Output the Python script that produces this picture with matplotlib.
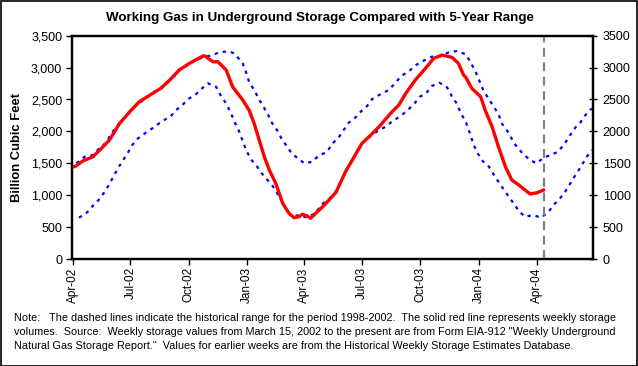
import matplotlib
matplotlib.use("Agg")
import matplotlib.pyplot as plt
import matplotlib.dates as mdates
import matplotlib.ticker as mticker
import numpy as np
import pandas as pd

plt.rcParams['font.family'] = ['Liberation Sans', 'DejaVu Sans']

# ---- data (Bcf) ----
storage_dates = ["2002-03-29", "2002-04-05", "2002-04-17", "2002-05-03", "2002-05-19", "2002-05-29",
                 "2002-06-14", "2002-06-30", "2002-07-15", "2002-08-05", "2002-08-18", "2002-09-01",
                 "2002-09-16", "2002-10-02", "2002-10-23", "2002-10-26", "2002-11-08", "2002-11-16",
                 "2002-11-29", "2002-12-09", "2002-12-25", "2003-01-04", "2003-01-12", "2003-01-20",
                 "2003-01-28", "2003-02-05", "2003-02-15", "2003-02-26", "2003-03-08", "2003-03-16",
                 "2003-03-24", "2003-03-29", "2003-04-06", "2003-04-11", "2003-04-19", "2003-04-30",
                 "2003-05-10", "2003-05-21", "2003-06-05", "2003-07-01", "2003-07-12", "2003-07-28",
                 "2003-08-15", "2003-08-28", "2003-09-08", "2003-09-23", "2003-10-09", "2003-10-22",
                 "2003-11-04", "2003-11-20", "2003-11-30", "2003-12-08", "2003-12-11", "2003-12-21",
                 "2004-01-04", "2004-01-11", "2004-01-22", "2004-02-01", "2004-02-12", "2004-02-22",
                 "2004-03-04", "2004-03-14", "2004-03-22", "2004-04-02", "2004-04-12"]
storage_values = [1440, 1450, 1536, 1603, 1760, 1865,
                  2126, 2308, 2465, 2596, 2675, 2805,
                  2962, 3066, 3181, 3185, 3092, 3092,
                  2962, 2700, 2492, 2335, 2126, 1865,
                  1603, 1395, 1186, 873, 716, 647,
                  663, 700, 674, 638, 716, 820,
                  925, 1045, 1368, 1813, 1916, 2073,
                  2283, 2413, 2596, 2805, 2988, 3145,
                  3197, 3160, 3066, 2883, 2857, 2675,
                  2543, 2335, 2073, 1760, 1446, 1238,
                  1160, 1081, 1019, 1039, 1081]

max_dates = ["2002-04-07", "2002-04-20", "2002-05-03", "2002-05-13", "2002-05-24", "2002-06-01",
             "2002-06-08", "2002-06-18", "2002-06-27", "2002-07-05", "2002-07-15", "2002-07-26",
             "2002-08-08", "2002-08-18", "2002-09-01", "2002-09-10", "2002-09-19", "2002-10-02",
             "2002-10-13", "2002-11-07", "2002-11-21", "2002-12-04", "2002-12-12", "2002-12-25",
             "2002-12-30", "2003-01-04", "2003-01-12", "2003-01-19", "2003-01-25", "2003-02-02",
             "2003-02-09", "2003-02-17", "2003-02-24", "2003-03-05", "2003-03-13", "2003-03-22",
             "2003-04-01", "2003-04-14", "2003-04-23", "2003-05-07", "2003-05-15", "2003-05-25",
             "2003-06-02", "2003-06-10", "2003-06-21", "2003-06-29", "2003-07-09", "2003-07-17",
             "2003-07-30", "2003-08-12", "2003-08-22", "2003-09-01", "2003-09-12", "2003-09-24",
             "2003-10-06", "2003-10-19", "2003-11-01", "2003-11-13", "2003-11-27", "2003-12-12",
             "2003-12-19", "2003-12-27", "2004-01-03", "2004-01-08", "2004-01-16", "2004-01-24",
             "2004-02-01", "2004-02-07", "2004-02-17", "2004-02-25", "2004-03-03", "2004-03-11",
             "2004-03-22", "2004-04-01", "2004-04-12", "2004-04-23", "2004-05-05", "2004-05-15",
             "2004-05-24", "2004-06-01", "2004-06-10", "2004-06-17", "2004-06-27"]
max_values = [1500, 1603, 1630, 1735, 1823, 1970,
              2058, 2178, 2256, 2371, 2440, 2528,
              2622, 2684, 2794, 2883, 2988, 3051,
              3129, 3197, 3249, 3249, 3223, 3066,
              2935, 2778, 2648, 2518, 2413, 2283,
              2136, 2021, 1891, 1760, 1645, 1578,
              1500, 1525, 1614, 1681, 1805, 1901,
              2021, 2136, 2220, 2308, 2397, 2507,
              2581, 2648, 2753, 2872, 2935, 3040,
              3108, 3170, 3181, 3233, 3259, 3207,
              3082, 2935, 2769, 2648, 2518, 2397,
              2272, 2116, 1979, 1828, 1735, 1645,
              1551, 1500, 1587, 1630, 1681, 1802,
              1943, 2058, 2152, 2256, 2361]

min_dates = ["2002-04-11", "2002-04-24", "2002-05-04", "2002-05-12", "2002-05-21", "2002-05-29",
             "2002-06-05", "2002-06-12", "2002-06-19", "2002-06-27", "2002-07-04", "2002-07-13",
             "2002-07-26", "2002-08-07", "2002-08-20", "2002-09-02", "2002-09-11", "2002-09-21",
             "2002-09-30", "2002-10-11", "2002-10-22", "2002-10-31", "2002-11-13", "2002-11-20",
             "2002-11-28", "2002-12-06", "2002-12-12", "2002-12-19", "2002-12-25", "2002-12-31",
             "2003-01-08", "2003-01-16", "2003-01-24", "2003-02-02", "2003-02-11", "2003-02-19",
             "2003-02-27", "2003-03-05", "2003-03-13", "2003-03-24", "2003-04-06", "2003-04-19",
             "2003-04-29", "2003-05-10", "2003-05-20", "2003-06-05", "2003-07-01", "2003-07-12",
             "2003-07-24", "2003-08-07", "2003-08-19", "2003-08-31", "2003-09-11", "2003-09-21",
             "2003-09-30", "2003-10-10", "2003-10-19", "2003-10-31", "2003-11-12", "2003-11-20",
             "2003-11-27", "2003-12-04", "2003-12-12", "2003-12-18", "2003-12-24", "2003-12-31",
             "2004-01-07", "2004-01-17", "2004-01-25", "2004-02-02", "2004-02-10", "2004-02-18",
             "2004-02-26", "2004-03-05", "2004-03-14", "2004-03-27", "2004-04-08", "2004-04-20",
             "2004-04-29", "2004-05-08", "2004-05-17", "2004-05-25", "2004-06-02", "2004-06-10",
             "2004-06-18", "2004-06-27"]
min_values = [647, 732, 846, 925, 1045, 1175,
              1305, 1431, 1540, 1666, 1786, 1891,
              1985, 2064, 2162, 2230, 2335, 2413,
              2507, 2570, 2675, 2753, 2700, 2570,
              2449, 2299, 2152, 2010, 1849, 1692,
              1551, 1457, 1343, 1238, 1133, 1003,
              873, 741, 663, 689, 647, 726,
              862, 936, 1045, 1368, 1813, 1907,
              1995, 2073, 2167, 2241, 2335, 2429,
              2543, 2596, 2711, 2763, 2690, 2543,
              2440, 2283, 2136, 1970, 1786, 1645,
              1536, 1446, 1316, 1196, 1081, 967,
              857, 741, 663, 689, 647, 741,
              857, 951, 1070, 1196, 1327, 1446,
              1587, 1708]

current_week = "2004-04-12"
title = "Working Gas in Underground Storage Compared with 5-Year Range"
ylabel = "Billion Cubic Feet"
note = ("Note:   The dashed lines indicate the historical range for the period 1998-2002.  The solid red line represents weekly storage\n"
        "volumes.  Source:  Weekly storage values from March 15, 2002 to the present are from Form EIA-912 \"Weekly Underground\n"
        "Natural Gas Storage Report.\"  Values for earlier weeks are from the Historical Weekly Storage Estimates Database.")

# ---- figure ----
fig = plt.figure(figsize=(6.38, 3.66), dpi=100)
ax = fig.add_axes([72/638, 1-259/366, (593-72)/638, (259-35.7)/366])

sd = pd.to_datetime(storage_dates)
mxd = pd.to_datetime(max_dates)
mnd = pd.to_datetime(min_dates)

blue = '#0000FF'
ax.plot(mxd, max_values, color=blue, lw=1.6, linestyle=(0, (1.5, 2.2)), zorder=2)
ax.plot(mnd, min_values, color=blue, lw=1.6, linestyle=(0, (1.5, 2.2)), zorder=2)
ax.plot(sd, storage_values, color='#FF0000', lw=2.4, zorder=3, solid_joinstyle='round')
ax.axvline(pd.Timestamp(current_week), color='#808080', lw=1.6, linestyle=(0, (4, 2.5)), zorder=4)

ax.set_xlim(pd.Timestamp("2002-03-31"), pd.Timestamp("2004-06-29"))
ax.set_ylim(0, 3500)
ax.yaxis.set_major_locator(mticker.MultipleLocator(500))
ax.yaxis.set_major_formatter(mticker.FuncFormatter(lambda v, p: f"{int(v):,}"))
ax.xaxis.set_major_locator(mdates.MonthLocator(bymonth=[1, 4, 7, 10], bymonthday=1))
ax.xaxis.set_major_formatter(mdates.DateFormatter("%b-%y"))

ax.tick_params(axis='x', labelsize=8.5, direction='out', length=4, width=1, pad=2, labelrotation=90)
ax.tick_params(axis='y', labelsize=9, direction='out', length=4, width=1, pad=3)
for s in ax.spines.values():
    s.set_linewidth(1.6)
    s.set_color('black')

ax2 = ax.twinx()
ax2.set_ylim(0, 3500)
ax2.yaxis.set_major_locator(mticker.MultipleLocator(500))
ax2.yaxis.set_major_formatter(mticker.FuncFormatter(lambda v, p: f"{int(v)}"))
ax2.tick_params(axis='y', labelsize=9, direction='inout', length=6, width=1, pad=4)
for s in ax2.spines.values():
    s.set_linewidth(1.6)

ax.set_ylabel(ylabel, fontsize=9.4, fontweight='bold', labelpad=6)
fig.text(320/638, 1-18/366, title, ha='center', va='center', fontsize=9.6, fontweight='bold')
fig.text(14/638, 1-313/366, note, ha='left', va='top', fontsize=7.8, linespacing=1.52)

# outer frame
fig.patches.append(plt.Rectangle((0.5/638, 0.5/366), 1-1.5/638, 1-1.5/366, transform=fig.transFigure,
                                 fill=False, edgecolor='black', lw=1.2))

fig.savefig("out.png", dpi=100)
